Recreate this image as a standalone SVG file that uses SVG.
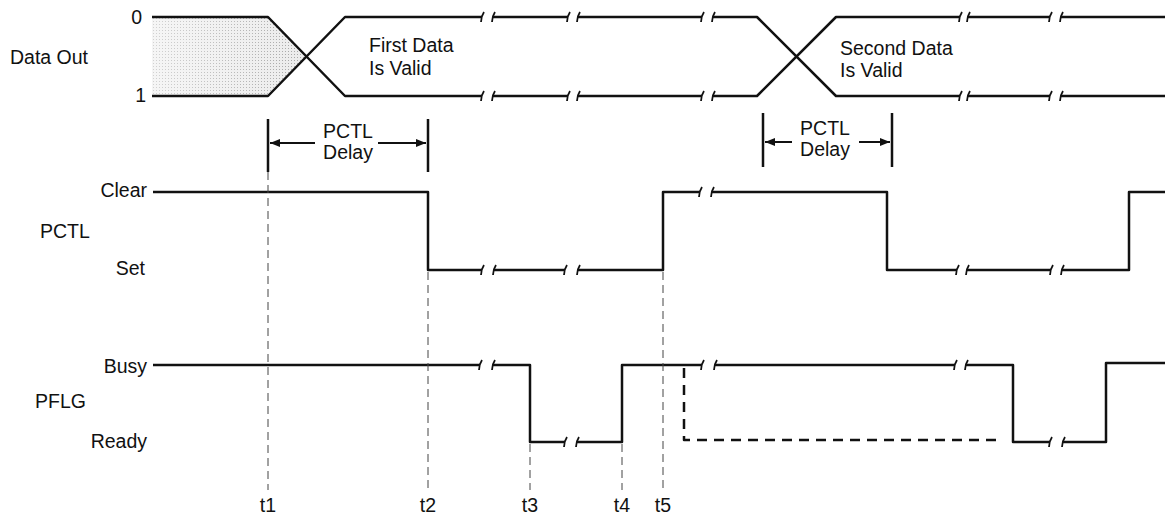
<svg xmlns="http://www.w3.org/2000/svg" width="1165" height="522" viewBox="0 0 1165 522">
<style>
text{font-family:"Liberation Sans",Arial,sans-serif;font-size:19.5px;fill:#111}
.sig{fill:none;stroke:#111;stroke-width:2.5;stroke-linejoin:round}
.brk{fill:none;stroke:#111;stroke-width:1.8}
.tl{fill:none;stroke:#444;stroke-width:1;stroke-dasharray:8 5}
.br{fill:none;stroke:#111;stroke-width:2.5}
.arr{fill:none;stroke:#111;stroke-width:2;marker-end:url(#ah)}
.mid{text-anchor:middle}
.end{text-anchor:end}
</style>
<defs>
<marker id="ah" viewBox="0 0 10 8" refX="10" refY="4" markerWidth="10" markerHeight="8" markerUnits="userSpaceOnUse" orient="auto">
<path d="M0,0 L10,4 L0,8 Z" fill="#111"/>
</marker>
<path id="tk" d="M2,-5 C0,-2 -1,1 -1,5"/>
<pattern id="dots" width="3" height="3" patternUnits="userSpaceOnUse">
<rect width="3" height="3" fill="#ececec"/>
<rect width="1" height="1" fill="#a5a5a5"/>
</pattern>
<linearGradient id="shade" x1="0" x2="1" y1="0" y2="0">
<stop offset="0" stop-color="#fff" stop-opacity="0.5"/>
<stop offset="1" stop-color="#fff" stop-opacity="0"/>
</linearGradient>
</defs>

<g id="labels">
<text x="10" y="64">Data Out</text>
<text x="142" y="24" class="end">0</text>
<text x="146" y="102" class="end">1</text>
<text x="147" y="197" class="end">Clear</text>
<text x="40" y="238">PCTL</text>
<text x="145" y="275" class="end">Set</text>
<text x="147" y="373" class="end">Busy</text>
<text x="35" y="408">PFLG</text>
<text x="147" y="448" class="end">Ready</text>
<text x="369" y="52">First Data</text>
<text x="369" y="75">Is Valid</text>
<text x="840" y="55">Second Data</text>
<text x="840" y="77">Is Valid</text>
<text x="268" y="512" class="mid">t1</text>
<text x="428" y="512" class="mid">t2</text>
<text x="530" y="512" class="mid">t3</text>
<text x="622" y="512" class="mid">t4</text>
<text x="663" y="512" class="mid">t5</text>
</g>

<g id="data-out">
<path d="M152,17 H268 L306.5,56.5 L268,96 H152 Z" fill="url(#dots)"/>
<path d="M152,17 H268 L306.5,56.5 L268,96 H152 Z" fill="url(#shade)"/>
<path class="sig" d="M152,17 H268 L345,96 H482 M493,96 H568 M578,96 H702 M713,96 H757 L836,17 H960 M968,17 H1050 M1061,17 H1165"/>
<path class="sig" d="M152,96 H268 L345,17 H482 M493,17 H568 M578,17 H702 M713,17 H757 L836,96 H960 M968,96 H1050 M1061,96 H1165"/>
<g class="brk">
<use href="#tk" x="482" y="17"/><use href="#tk" x="493" y="17"/>
<use href="#tk" x="568" y="17"/><use href="#tk" x="578" y="17"/>
<use href="#tk" x="702" y="17"/><use href="#tk" x="713" y="17"/>
<use href="#tk" x="960" y="17"/><use href="#tk" x="968" y="17"/>
<use href="#tk" x="1050" y="17"/><use href="#tk" x="1061" y="17"/>
<use href="#tk" x="482" y="96"/><use href="#tk" x="493" y="96"/>
<use href="#tk" x="568" y="96"/><use href="#tk" x="578" y="96"/>
<use href="#tk" x="702" y="96"/><use href="#tk" x="713" y="96"/>
<use href="#tk" x="960" y="96"/><use href="#tk" x="968" y="96"/>
<use href="#tk" x="1050" y="96"/><use href="#tk" x="1061" y="96"/>
</g>
</g>

<g id="pctl-delay-1">
<path class="br" d="M268,119 V172 M428,119 V172"/>
<path class="arr" d="M315,143 H270"/>
<path class="arr" d="M378,143 H426"/>
<text x="348" y="138" class="mid">PCTL</text>
<text x="348" y="159" class="mid">Delay</text>
</g>

<g id="pctl-delay-2">
<path class="br" d="M763,113 V167 M892,113 V167"/>
<path class="arr" d="M792,142 H765"/>
<path class="arr" d="M859,142 H890"/>
<text x="825" y="135" class="mid">PCTL</text>
<text x="825" y="156" class="mid">Delay</text>
</g>

<g id="pctl">
<path class="sig" d="M153,192 H428 V270 H482 M494,270 H565 M578,270 H663 V192 H700 M712,192 H887 V270 H957 M967,270 H1051 M1062,270 H1129 V192 H1165"/>
<g class="brk">
<use href="#tk" x="482" y="270"/><use href="#tk" x="494" y="270"/>
<use href="#tk" x="565" y="270"/><use href="#tk" x="578" y="270"/>
<use href="#tk" x="700" y="192"/><use href="#tk" x="712" y="192"/>
<use href="#tk" x="957" y="270"/><use href="#tk" x="967" y="270"/>
<use href="#tk" x="1051" y="270"/><use href="#tk" x="1062" y="270"/>
</g>
</g>

<g id="pflg">
<path class="sig" d="M153,365 H480 M493,365 H530 V442 H565 M577,442 H622 V365 H702 M715,365 H955 M966,365 H1013 V442 H1050 M1063,442 H1106 V363 H1165"/>
<path class="sig" stroke-dasharray="10 7" d="M684,368 V440 H1002"/>
<g class="brk">
<use href="#tk" x="480" y="365"/><use href="#tk" x="493" y="365"/>
<use href="#tk" x="565" y="442"/><use href="#tk" x="577" y="442"/>
<use href="#tk" x="702" y="365"/><use href="#tk" x="715" y="365"/>
<use href="#tk" x="955" y="365"/><use href="#tk" x="966" y="365"/>
<use href="#tk" x="1050" y="442"/><use href="#tk" x="1063" y="442"/>
</g>
</g>

<g id="connectors">
<path class="tl" d="M268,172 V490"/>
<path class="tl" d="M428,272 V490"/>
<path class="tl" d="M530,444 V490"/>
<path class="tl" d="M622,444 V490"/>
<path class="tl" d="M663,272 V492"/>
</g>
</svg>
